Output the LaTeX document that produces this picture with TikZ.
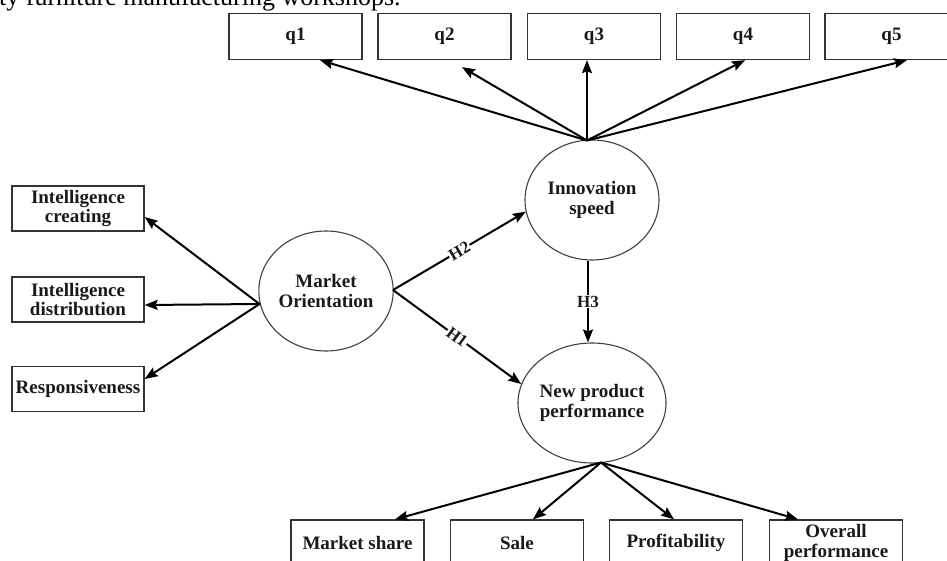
\documentclass[tikz,border=0pt]{standalone}
\usepackage{fontspec}
\setmainfont{Liberation Serif}
\usetikzlibrary{shapes.geometric,arrows.meta,calc}
\begin{document}
\begin{tikzpicture}[x=1pt,y=-1pt,
  box/.style={draw=black!80, line width=1.3pt, rectangle, inner sep=0pt,
    minimum width=133pt, minimum height=46pt, align=center,
    font=\fontsize{19}{19.5}\selectfont\bfseries, text=black!90},
  latent/.style={draw=black!75, line width=1.1pt, ellipse, inner sep=0pt,
    minimum width=134pt, minimum height=120pt, align=center,
    font=\fontsize{19}{20}\selectfont\bfseries, text=black!90},
  arr/.style={line width=2pt, -{Stealth[length=13pt,width=10pt,inset=2pt]}},
  hyp/.style={fill=white, inner sep=0.8pt, sloped,
    font=\fontsize{17}{17}\selectfont\bfseries, text=black!90}
]
\useasboundingbox (0,0) rectangle (947,561);
\clip (0,0) rectangle (947,561);

% caption fragment
\node[anchor=base west, inner sep=0pt, font=\fontsize{26}{26}\selectfont] (cap) at (-1,6) {ty furniture manufacturing workshops.};

% indicator boxes (top)
\node[box] (q1) at (295.5,36.5) {q1};
\node[box] (q2) at (444.5,36.5) {q2};
\node[box] (q3) at (594,36.5) {q3};
\node[box] (q4) at (743,36.5) {q4};
\node[box] (q5) at (891.5,36.5) {q5};

% left boxes
\node[box, minimum width=132pt, minimum height=45pt] (ic) at (78,208.5) {Intelligence\\creating};
\node[box, minimum width=132pt, minimum height=45pt] (id) at (78,299.5) {Intelligence\\distribution};
\node[box, minimum width=132pt, minimum height=45pt] (rs) at (78,389) {Responsiveness};

% bottom boxes
\node[box] (ms) at (357.5,543) {Market share};
\node[box] (sa) at (517,543) {Sale};
\node[box] (pr) at (676,543) {Profitability};
\node[box] (op) at (836,543) {Overall\\performance};

% latent variables
\node[latent] (mo) at (326,291) {Market\\Orientation};
\node[latent] (is) at (592,200) {Innovation\\speed};
\node[latent] (np) at (592,403) {New product\\performance};

% apex points
\coordinate (iap) at (587,140.5);
\coordinate (nap) at (601,462.5);
\coordinate (mol) at (259.5,304);
\coordinate (mor) at (393,290);

% innovation speed -> q
\draw[arr] (iap) -- ([xshift=24.5pt]q1.south);
\draw[arr] (iap) -- ([xshift=17.5pt,yshift=-7pt]q2.south);
\draw[arr] (iap) -- ([xshift=-7pt]q3.south);
\draw[arr] (iap) -- ([xshift=2pt]q4.south);
\draw[arr] (iap) -- ([xshift=15.5pt]q5.south);

% market orientation -> indicators
\draw[arr] (mol) -- ([yshift=-8.5pt]ic.east);
\draw[arr] (mol) -- ([yshift=-5.5pt]id.east);
\draw[arr] (mol) -- ([yshift=10pt]rs.east);

% NPP -> indicators
\draw[arr] (nap) -- ([xshift=37.5pt]ms.north);
\draw[arr] (nap) -- ([xshift=16pt]sa.north);
\draw[arr] (nap) -- ([xshift=-2pt]pr.north);
\draw[arr] (nap) -- ([xshift=-38pt]op.north);

% hypotheses
\draw[arr] (mor) -- node[hyp] {H2} (is.190);
\draw[arr] (mor) -- node[hyp] {H1} (np.165);
\draw[arr] ([xshift=-4pt]is.south) -- node[fill=white, inner sep=1pt, font=\fontsize{17}{17}\selectfont\bfseries, text=black!90] {H3} ([xshift=-4pt]np.north);
\end{tikzpicture}
\end{document}
